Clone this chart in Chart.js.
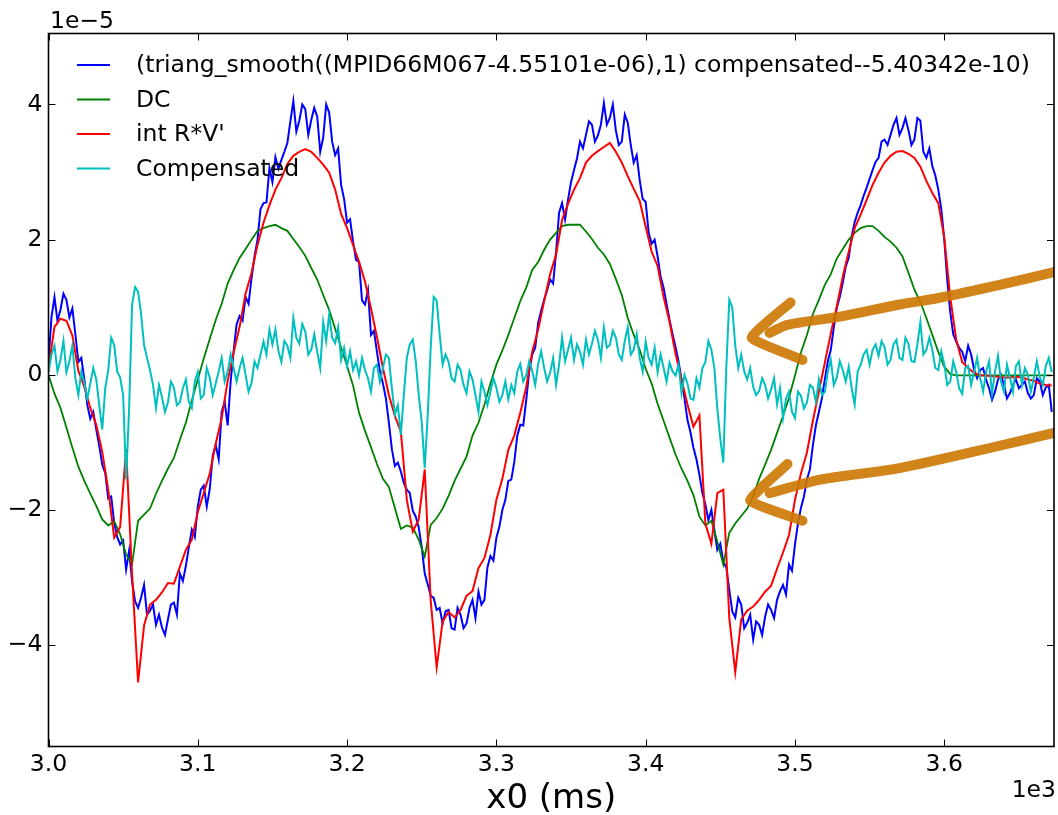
<!DOCTYPE html>
<html>
<head>
<meta charset="utf-8">
<script src="https://cdn.jsdelivr.net/npm/chart.js@4.4.1/dist/chart.umd.min.js"></script>
<style>
  html, body { margin: 0; padding: 0; background: #fff; }
  #wrap { width: 1058px; height: 815px; }
</style>
</head>
<body>
<div id="wrap"><canvas id="traceChart" width="1058" height="815"></canvas></div>
<script>
// time in ms (axis shows it divided by 1e3), values in units of 1e-5
const xTickValues = [3000, 3100, 3200, 3300, 3400, 3500, 3600];
const yTickValues = [-4, -2, 0, 2, 4];

// 4 ms grid for the smoother traces
const timeMs = [
  3000, 3004, 3008, 3012, 3016, 3020, 3024, 3028, 3032, 3036,
  3040, 3044, 3048, 3052, 3056, 3060, 3064, 3068, 3072, 3076,
  3080, 3084, 3088, 3092, 3096, 3100, 3104, 3108, 3112, 3116,
  3120, 3124, 3128, 3132, 3136, 3140, 3144, 3148, 3152, 3156,
  3160, 3164, 3168, 3172, 3176, 3180, 3184, 3188, 3192, 3196,
  3200, 3204, 3208, 3212, 3216, 3220, 3224, 3228, 3232, 3236,
  3240, 3244, 3248, 3252, 3256, 3260, 3264, 3268, 3272, 3276,
  3280, 3284, 3288, 3292, 3296, 3300, 3304, 3308, 3312, 3316,
  3320, 3324, 3328, 3332, 3336, 3340, 3344, 3348, 3352, 3356,
  3360, 3364, 3368, 3372, 3376, 3380, 3384, 3388, 3392, 3396,
  3400, 3404, 3408, 3412, 3416, 3420, 3424, 3428, 3432, 3436,
  3440, 3444, 3448, 3452, 3456, 3460, 3464, 3468, 3472, 3476,
  3480, 3484, 3488, 3492, 3496, 3500, 3504, 3508, 3512, 3516,
  3520, 3524, 3528, 3532, 3536, 3540, 3544, 3548, 3552, 3556,
  3560, 3564, 3568, 3572, 3576, 3580, 3584, 3588, 3592, 3596,
  3600, 3604, 3608, 3612, 3616, 3620, 3624, 3628, 3632, 3636,
  3640, 3644, 3648, 3652, 3656, 3660, 3664, 3668, 3672
];

// 2 ms grid for the noisy traces
const fineTimeMs = [
  3000, 3002, 3004, 3006, 3008, 3010, 3012, 3014, 3016, 3018,
  3020, 3022, 3024, 3026, 3028, 3030, 3032, 3034, 3036, 3038,
  3040, 3042, 3044, 3046, 3048, 3050, 3052, 3054, 3056, 3058,
  3060, 3062, 3064, 3066, 3068, 3070, 3072, 3074, 3076, 3078,
  3080, 3082, 3084, 3086, 3088, 3090, 3092, 3094, 3096, 3098,
  3100, 3102, 3104, 3106, 3108, 3110, 3112, 3114, 3116, 3118,
  3120, 3122, 3124, 3126, 3128, 3130, 3132, 3134, 3136, 3138,
  3140, 3142, 3144, 3146, 3148, 3150, 3152, 3154, 3156, 3158,
  3160, 3162, 3164, 3166, 3168, 3170, 3172, 3174, 3176, 3178,
  3180, 3182, 3184, 3186, 3188, 3190, 3192, 3194, 3196, 3198,
  3200, 3202, 3204, 3206, 3208, 3210, 3212, 3214, 3216, 3218,
  3220, 3222, 3224, 3226, 3228, 3230, 3232, 3234, 3236, 3238,
  3240, 3242, 3244, 3246, 3248, 3250, 3252, 3254, 3256, 3258,
  3260, 3262, 3264, 3266, 3268, 3270, 3272, 3274, 3276, 3278,
  3280, 3282, 3284, 3286, 3288, 3290, 3292, 3294, 3296, 3298,
  3300, 3302, 3304, 3306, 3308, 3310, 3312, 3314, 3316, 3318,
  3320, 3322, 3324, 3326, 3328, 3330, 3332, 3334, 3336, 3338,
  3340, 3342, 3344, 3346, 3348, 3350, 3352, 3354, 3356, 3358,
  3360, 3362, 3364, 3366, 3368, 3370, 3372, 3374, 3376, 3378,
  3380, 3382, 3384, 3386, 3388, 3390, 3392, 3394, 3396, 3398,
  3400, 3402, 3404, 3406, 3408, 3410, 3412, 3414, 3416, 3418,
  3420, 3422, 3424, 3426, 3428, 3430, 3432, 3434, 3436, 3438,
  3440, 3442, 3444, 3446, 3448, 3450, 3452, 3454, 3456, 3458,
  3460, 3462, 3464, 3466, 3468, 3470, 3472, 3474, 3476, 3478,
  3480, 3482, 3484, 3486, 3488, 3490, 3492, 3494, 3496, 3498,
  3500, 3502, 3504, 3506, 3508, 3510, 3512, 3514, 3516, 3518,
  3520, 3522, 3524, 3526, 3528, 3530, 3532, 3534, 3536, 3538,
  3540, 3542, 3544, 3546, 3548, 3550, 3552, 3554, 3556, 3558,
  3560, 3562, 3564, 3566, 3568, 3570, 3572, 3574, 3576, 3578,
  3580, 3582, 3584, 3586, 3588, 3590, 3592, 3594, 3596, 3598,
  3600, 3602, 3604, 3606, 3608, 3610, 3612, 3614, 3616, 3618,
  3620, 3622, 3624, 3626, 3628, 3630, 3632, 3634, 3636, 3638,
  3640, 3642, 3644, 3646, 3648, 3650, 3652, 3654, 3656, 3658,
  3660, 3662, 3664, 3666, 3668, 3670, 3672
];

const smoothedSignal = [
  0.2, 0.85, 1.15, 0.80, 0.96, 1.20, 1.11, 0.85, 0.98, 0.60,
  0.19, 0.25, -0.07, -0.45, -0.65, -0.55, -0.81, -1.05, -1.33, -1.45,
  -1.83, -1.80, -2.19, -2.40, -2.51, -2.45, -2.88, -2.60, -3.06, -3.35,
  -3.45, -3.30, -3.11, -3.55, -3.49, -3.40, -3.70, -3.55, -3.74, -3.85,
  -3.62, -3.40, -3.37, -3.55, -2.94, -3.05, -2.83, -2.55, -2.29, -2.40,
  -1.95, -1.70, -1.64, -1.95, -1.69, -1.20, -1.04, -1.25, -0.55, -0.40,
  -0.75, -0.10, 0.35, 0.75, 0.87, 0.80, 1.15, 1.05, 1.43, 1.75,
  2.0, 2.45, 2.54, 2.55, 3.06, 2.85, 3.22, 3.05, 3.18, 3.30,
  3.43, 3.75, 4.05, 3.60, 3.76, 4.00, 3.93, 3.55, 3.77, 3.95,
  3.82, 3.30, 3.51, 4.00, 3.88, 3.45, 3.25, 3.35, 2.81, 2.60,
  2.25, 2.30, 1.97, 1.70, 1.67, 1.10, 1.04, 1.25, 0.59, 0.65,
  0.34, 0.05, -0.13, -0.35, -0.71, -1.10, -1.35, -1.30, -1.43, -1.60,
  -1.70, -1.75, -2.01, -2.10, -2.26, -2.55, -2.94, -3.10, -3.27, -3.30,
  -3.48, -3.45, -3.68, -3.50, -3.48, -3.75, -3.77, -3.45, -3.55, -3.75,
  -3.68, -3.45, -3.33, -3.60, -3.21, -3.40, -3.33, -2.85, -2.68, -2.75,
  -2.41, -2.25, -2.0, -1.85, -1.57, -1.55, -1.29, -0.90, -0.74, -0.75,
  -0.37, 0.05, 0.30, 0.40, 0.77, 0.95, 1.11, 1.25, 1.41, 1.35,
  1.82, 2.40, 2.54, 2.30, 2.59, 2.85, 3.03, 3.20, 3.45, 3.35,
  3.55, 3.75, 3.70, 3.45, 3.54, 3.70, 4.02, 3.70, 3.80, 4.00,
  3.62, 3.40, 3.45, 3.85, 3.73, 3.40, 3.14, 3.25, 2.88, 2.60,
  2.56, 2.10, 1.94, 2.00, 1.75, 1.45, 1.29, 1.05, 0.81, 0.60,
  0.41, 0.20, -0.07, -0.35, -0.67, -0.85, -1.08, -1.25, -1.48, -1.75,
  -1.92, -2.15, -2.0, -2.30, -2.59, -2.50, -2.77, -2.85, -3.18, -3.50,
  -3.59, -3.30, -3.40, -3.75, -3.67, -3.55, -3.92, -3.65, -3.70, -3.85,
  -3.58, -3.40, -3.48, -3.60, -3.33, -3.20, -3.11, -3.25, -2.81, -2.90,
  -2.51, -2.20, -1.97, -1.80, -1.55, -1.40, -1.04, -0.75, -0.55, -0.35,
  -0.07, 0.20, 0.37, 0.70, 0.99, 1.15, 1.36, 1.60, 1.73, 2.05,
  2.26, 2.40, 2.51, 2.65, 2.77, 2.90, 3.03, 3.15, 3.21, 3.45,
  3.48, 3.40, 3.55, 3.70, 3.80, 3.55, 3.65, 3.80, 3.62, 3.40,
  3.48, 3.80, 3.76, 3.30, 3.21, 3.35, 3.09, 2.95, 2.74, 2.45,
  2.0, 1.40, 0.93, 0.60, 0.49, 0.40, 0.34, 0.20, 0.43, 0.30,
  0.07, -0.05, 0.07, 0.10, -0.07, -0.20, -0.37, -0.25, -0.07, 0.0,
  -0.15, -0.35, -0.27, -0.15, -0.07, -0.20, -0.15, -0.10, -0.27, -0.35,
  -0.30, -0.05, -0.10, -0.30, -0.19, -0.15, -0.55
];

const dcSignal = [
  0, -0.28, -0.49, -0.78, -1.08, -1.36, -1.57, -1.76, -1.94, -2.14,
  -2.23, -2.17, -2.36, -2.66, -2.80, -2.16, -2.07, -1.98, -1.76, -1.57,
  -1.39, -1.23, -0.96, -0.71, -0.38, -0.07, 0.24, 0.53, 0.81, 1.05,
  1.35, 1.55, 1.73, 1.86, 2.0, 2.13, 2.17, 2.20, 2.22, 2.17,
  2.13, 2.01, 1.89, 1.76, 1.58, 1.41, 1.18, 0.96, 0.68, 0.40,
  0.13, -0.16, -0.56, -0.83, -1.07, -1.32, -1.54, -1.66, -1.97, -2.28,
  -2.23, -2.26, -2.44, -2.69, -2.22, -2.12, -1.98, -1.79, -1.57, -1.39,
  -1.21, -0.90, -0.71, -0.44, -0.13, 0.15, 0.36, 0.59, 0.84, 1.09,
  1.29, 1.55, 1.67, 1.85, 2.0, 2.10, 2.20, 2.22, 2.22, 2.22,
  2.12, 2.01, 1.88, 1.78, 1.64, 1.42, 1.18, 0.84, 0.59, 0.37,
  0.09, -0.13, -0.43, -0.68, -0.93, -1.18, -1.39, -1.57, -1.78, -2.10,
  -2.23, -2.16, -2.47, -2.81, -2.34, -2.20, -2.09, -1.98, -1.80, -1.54,
  -1.33, -1.11, -0.86, -0.61, -0.34, -0.01, 0.33, 0.59, 0.90, 1.11,
  1.33, 1.49, 1.72, 1.86, 2.0, 2.10, 2.17, 2.20, 2.20, 2.13,
  2.04, 1.97, 1.88, 1.75, 1.51, 1.26, 1.08, 0.84, 0.59, 0.34,
  0.12, 0.01, -0.01, -0.01, -0.01, -0.01, -0.01, -0.01, -0.01, -0.01,
  -0.01, -0.01, -0.01, -0.01, -0.01, -0.01, -0.01, -0.01, -0.01
];

const intRV = [
  0.10, 0.71, 0.83, 0.80, 0.58, 0.06, -0.18, -0.49, -0.74, -1.14,
  -1.70, -2.41, -2.25, -1.10, -2.96, -4.55, -3.71, -3.40, -3.33, -3.22,
  -3.08, -3.09, -2.84, -2.59, -2.44, -2.03, -1.75, -1.46, -1.02, -0.64,
  -0.09, 0.33, 0.71, 1.20, 1.51, 1.92, 2.25, 2.51, 2.74, 2.91,
  3.12, 3.24, 3.30, 3.34, 3.30, 3.21, 3.11, 2.99, 2.74, 2.38,
  2.17, 1.92, 1.67, 1.38, 0.98, 0.56, 0.10, -0.30, -0.61, -0.84,
  -1.85, -2.32, -2.14, -1.40, -3.34, -4.33, -3.65, -3.51, -3.59, -3.48,
  -3.27, -3.20, -2.86, -2.71, -2.37, -1.85, -1.54, -1.11, -0.90, -0.56,
  -0.18, 0.34, 0.67, 1.09, 1.49, 1.78, 2.29, 2.53, 2.74, 2.91,
  3.14, 3.24, 3.31, 3.37, 3.43, 3.30, 3.14, 2.94, 2.75, 2.57,
  2.19, 1.82, 1.61, 1.15, 0.78, 0.31, -0.07, -0.44, -0.77, -0.60,
  -2.20, -2.50, -1.75, -1.70, -3.60, -4.40, -3.62, -3.49, -3.43, -3.33,
  -3.21, -3.12, -2.87, -2.63, -2.37, -1.85, -1.46, -1.15, -0.68, -0.25,
  0.18, 0.61, 1.01, 1.45, 1.82, 2.17, 2.37, 2.59, 2.81, 2.99,
  3.14, 3.24, 3.30, 3.31, 3.27, 3.21, 3.08, 2.87, 2.69, 2.54,
  2.03, 1.15, 0.52, 0.19, 0.10, 0.03, -0.01, -0.01, -0.02, -0.03,
  -0.04, -0.04, -0.03, -0.04, -0.07, -0.09, -0.13, -0.15, -0.16
];

const compensated = [
  0.04, 0.30, 0.43, 0.05, 0.22, 0.50, 0.04, 0.20, 0.43, -0.05,
  -0.30, 0.05, -0.12, -0.35, -0.13, 0.10, -0.07, -0.45, -0.81, -0.20,
  0.07, 0.55, 0.44, 0.05, -0.04, -0.30, -1.55, -0.50, 1.04, 1.30,
  1.23, 0.90, 0.44, 0.25, 0.07, -0.15, -0.49, -0.15, -0.33, -0.55,
  -0.41, -0.10, -0.19, -0.45, -0.41, -0.20, -0.07, -0.40, -0.49, -0.10,
  0.04, -0.35, -0.30, 0.10, -0.04, -0.30, -0.13, 0.05, 0.25, -0.10,
  0.04, 0.30, 0.10, -0.10, 0.10, 0.25, 0, -0.25, -0.12, 0.20,
  0.10, 0.30, 0.49, 0.30, 0.67, 0.45, 0.67, 0.35, 0.19, 0.50,
  0.43, 0.25, 0.84, 0.55, 0.46, 0.75, 0.64, 0.30, 0.37, 0.60,
  0.34, 0.10, 0.78, 0.50, 0.89, 0.55, 0.47, 0.70, 0.22, 0.40,
  0.13, 0.35, 0.07, 0.20, -0.01, 0.25, 0.07, -0.05, -0.25, 0.10,
  0.15, -0.10, 0.10, 0.30, 0.25, -0.20, -0.59, -0.45, -0.89, -0.30,
  0.25, 0.45, 0.52, 0.20, -0.30, -0.70, -1.38, -0.60, 0.40, 1.15,
  1.10, 0.60, 0.15, 0.30, 0.19, -0.05, -0.10, 0.15, 0.07, -0.15,
  -0.27, 0.05, -0.07, -0.30, -0.55, -0.10, -0.25, -0.45, -0.25, -0.05,
  -0.19, -0.40, -0.30, -0.10, -0.36, -0.15, -0.27, 0.05, 0.16, -0.10,
  -0.01, 0.20, 0.06, -0.15, 0.16, 0.35, 0.10, -0.10, 0.03, 0.25,
  -0.15, 0.15, 0.55, 0.20, 0.37, 0.55, 0.22, 0.45, 0.34, 0.15,
  0.52, 0.30, 0.46, 0.65, 0.52, 0.25, 0.70, 0.40, 0.44, 0.65,
  0.55, 0.30, 0.22, 0.50, 0.70, 0.30, 0.37, 0.60, 0.25, 0.05,
  0.49, 0.25, 0.15, 0.40, 0.04, 0.30, 0.10, -0.10, 0.18, 0.05,
  -0.01, 0.15, -0.27, 0.0, -0.13, -0.35, -0.37, -0.05, -0.19, 0.10,
  0.19, 0.50, 0.37, 0.10, -0.50, -0.95, -1.30, 0.10, 1.11, 1.0,
  0.43, 0.10, 0.30, 0.05, -0.07, 0.10, -0.18, -0.30, -0.24, -0.05,
  -0.15, -0.35, -0.22, -0.05, -0.44, -0.20, -0.64, -0.35, -0.25, -0.55,
  -0.64, -0.25, -0.31, -0.50, -0.41, -0.15, -0.19, -0.40, -0.07, -0.30,
  -0.25, 0.05, 0.22, -0.15, -0.04, 0.20, 0.07, -0.10, 0.12, -0.20,
  -0.44, 0.05, 0.15, 0.30, 0.37, 0.15, 0.37, 0.45, 0.28, 0.50,
  0.41, 0.15, 0.22, 0.45, 0.52, 0.25, 0.22, 0.55, 0.46, 0.20,
  0.19, 0.45, 0.78, 0.30, 0.37, 0.55, 0.37, 0.10, 0.07, 0.35,
  0.16, -0.15, -0.10, 0.20, 0.04, -0.20, -0.28, 0.10, 0.13, -0.15,
  0.04, 0.25, -0.04, -0.25, 0.04, 0.20, -0.28, 0.05, 0.28, -0.10,
  -0.25, 0.15, -0.04, -0.25, 0.13, 0.20, -0.15, 0.10, 0, -0.25,
  -0.04, 0.20, -0.04, -0.15, 0.13, 0.25, 0.04
];

// hand-drawn orange arrows, in data units
const arrowUpperShaftX = [3673.5, 3637, 3597, 3570, 3530, 3495, 3483];
const arrowUpperShaftY = [1.52, 1.33, 1.14, 1.04, 0.86, 0.74, 0.62];
const arrowUpperHeadX = [3497, 3471, 3505];
const arrowUpperHeadY = [1.07, 0.55, 0.22];
const arrowLowerShaftX = [3673.5, 3637, 3570, 3517, 3483];
const arrowLowerShaftY = [-0.86, -1.05, -1.38, -1.55, -1.75];
const arrowLowerHeadX = [3495, 3470, 3505];
const arrowLowerHeadY = [-1.32, -1.86, -2.16];

const seriesLabels = [
  '(triang_smooth((MPID66M067-4.55101e-06),1) compensated--5.40342e-10)',
  'DC',
  "int R*V'",
  'Compensated'
];

function toPoints(xs, ys) {
  return xs.map((x, i) => ({ x: x, y: ys[i] }));
}

function traceSet(label, xs, ys, color, order, width) {
  return {
    label: label,
    data: toPoints(xs, ys),
    borderColor: color,
    borderWidth: width,
    pointRadius: 0,
    tension: 0,
    fill: false,
    order: order
  };
}

function arrowSet(xs, ys, tension) {
  return {
    label: 'arrow',
    data: toPoints(xs, ys),
    borderColor: 'rgba(204, 119, 0, 0.9)',
    borderWidth: 10,
    borderCapStyle: 'round',
    borderJoinStyle: 'round',
    pointRadius: 0,
    tension: tension,
    fill: false,
    order: 0
  };
}

const MINUS = '\u2212';
const FONT = '23.5px "DejaVu Sans"';

// legend, inward ticks, frame and axis offset texts (matplotlib look)
const mplDecor = {
  id: 'mplDecor',
  afterDatasetsDraw(chart) {
    const { ctx, chartArea: a } = chart;
    ctx.save();
    ctx.font = FONT;
    ctx.textBaseline = 'middle';
    ctx.textAlign = 'left';
    let row = 0;
    chart.data.datasets.forEach(ds => {
      if (ds.label === 'arrow') return;
      const yy = a.top + 31.5 + row * 34.5;
      ctx.strokeStyle = ds.borderColor;
      ctx.lineWidth = 2;
      ctx.beginPath();
      ctx.moveTo(a.left + 28.5, yy);
      ctx.lineTo(a.left + 61.5, yy);
      ctx.stroke();
      ctx.fillStyle = '#000';
      ctx.fillText(ds.label, a.left + 87.5, yy + 1);
      row++;
    });
    ctx.restore();
  },
  afterDraw(chart) {
    const { ctx, chartArea: a, scales: { x, y } } = chart;
    ctx.save();
    ctx.strokeStyle = '#000';
    ctx.lineWidth = 1;
    const tl = 7;
    ctx.beginPath();
    x.ticks.forEach(t => {
      const px = Math.round(x.getPixelForValue(t.value)) + 0.5;
      ctx.moveTo(px, a.bottom); ctx.lineTo(px, a.bottom - tl);
      ctx.moveTo(px, a.top); ctx.lineTo(px, a.top + tl);
    });
    y.ticks.forEach(t => {
      const py = Math.round(y.getPixelForValue(t.value)) + 0.5;
      ctx.moveTo(a.left, py); ctx.lineTo(a.left + tl, py);
      ctx.moveTo(a.right, py); ctx.lineTo(a.right - tl, py);
    });
    ctx.stroke();
    ctx.lineWidth = 1.6;
    ctx.strokeRect(a.left, a.top, a.right - a.left, a.bottom - a.top);
    ctx.fillStyle = '#000';
    ctx.font = FONT;
    ctx.textBaseline = 'alphabetic';
    ctx.textAlign = 'left';
    ctx.fillText('1e' + MINUS + '5', a.left + 1.5, a.top - 5.5);
    ctx.textAlign = 'right';
    ctx.fillText('1e3', a.right + 2, a.bottom + 50);
    ctx.restore();
  }
};

Chart.defaults.font.family = '"DejaVu Sans", sans-serif';

new Chart(document.getElementById('traceChart').getContext('2d'), {
  type: 'line',
  data: {
    datasets: [
      traceSet(seriesLabels[0], fineTimeMs, smoothedSignal, '#0000ff', 4, 2),
      traceSet(seriesLabels[1], timeMs, dcSignal, '#008000', 3, 1.8),
      traceSet(seriesLabels[2], timeMs, intRV, '#ff0000', 2, 2),
      traceSet(seriesLabels[3], fineTimeMs, compensated, '#00bfbf', 1, 2),
      arrowSet(arrowUpperShaftX, arrowUpperShaftY, 0.3),
      arrowSet(arrowUpperHeadX, arrowUpperHeadY, 0.12),
      arrowSet(arrowLowerShaftX, arrowLowerShaftY, 0.3),
      arrowSet(arrowLowerHeadX, arrowLowerHeadY, 0.12)
    ]
  },
  options: {
    responsive: false,
    animation: false,
    events: [],
    layout: { padding: { left: 0, right: 4, top: 33.5, bottom: 0 } },
    plugins: { legend: { display: false }, tooltip: { enabled: false } },
    scales: {
      x: {
        type: 'linear',
        min: 3000,
        max: 3673.5,
        afterFit: s => { s.height = 68.5; },
        afterBuildTicks: s => { s.ticks = xTickValues.map(v => ({ value: v })); },
        grid: { display: false, drawTicks: false },
        border: { display: false },
        ticks: {
          color: '#000', padding: 4, maxRotation: 0, autoSkip: false,
          font: { size: 23.5 },
          callback: v => (v / 1000).toFixed(1)
        },
        title: { display: true, text: 'x0 (ms)', color: '#000', font: { size: 34 }, padding: { top: 0, bottom: -5 } }
      },
      y: {
        min: -5.5,
        max: 5.05,
        afterFit: s => { s.width = 48.5; },
        afterBuildTicks: s => { s.ticks = yTickValues.map(v => ({ value: v })); },
        grid: { display: false, drawTicks: false },
        border: { display: false },
        ticks: {
          color: '#000', padding: 6, autoSkip: false,
          font: { size: 23.5 },
          callback: v => String(v).replace('-', MINUS)
        }
      }
    }
  },
  plugins: [mplDecor]
});
</script>
</body>
</html>
